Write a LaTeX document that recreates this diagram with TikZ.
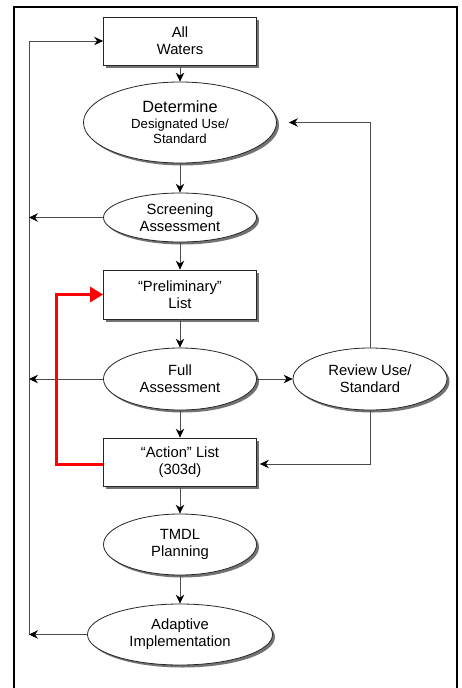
\documentclass[tikz,border=0pt]{standalone}
\usepackage{fontspec}
\setmainfont{Liberation Sans}
\usetikzlibrary{arrows.meta,shapes.geometric,shadows}

\tikzset{
  stepshade/.style={drop shadow={shadow xshift=2.5pt,shadow yshift=-2.5pt,fill=black!55,opacity=1}},
  listbox/.style={draw=black!85,line width=0.8pt,fill=white,rectangle,inner sep=0pt,
    minimum width=153pt,minimum height=48pt,align=center,stepshade,
    font=\fontsize{14.8}{17}\selectfont},
  task/.style={draw=black!85,line width=0.8pt,fill=white,ellipse,inner sep=0pt,
    minimum width=153pt,minimum height=61pt,align=center,stepshade,
    font=\fontsize{14.8}{17}\selectfont},
  flow/.style={draw=black!70,line width=0.9pt,-{Stealth[length=9pt,width=8.5pt,inset=3pt,color=black]}},
  redflow/.style={draw=red,line width=3pt,-{Triangle[length=13pt,width=15pt]}}
}

\begin{document}
\begin{tikzpicture}[x=1pt,y=-1pt]
    \clip (0,0) rectangle (461,688);
    % outer frame, open at the bottom of the page
    \draw[line width=2pt] (14,700) -- (14,7) -- (457,7) -- (457,700);

    % main column
    \node[listbox] (waters) at (180,41) {All\\Waters};
    \node[task,minimum width=193pt,minimum height=81pt] (determine) at (180,122.5)
      {{\fontsize{16.3}{19}\selectfont Determine}\\[-1pt]
       {\fontsize{13.2}{13.5}\selectfont Designated Use/}\\[-2pt]
       {\fontsize{13.2}{13.5}\selectfont Standard}};
    \node[task,minimum height=49pt] (screening) at (180,217.5) {Screening\\Assessment};
    \node[listbox,minimum height=49pt] (prelim) at (180,294.5) {``Preliminary''\\List};
    \node[task,minimum height=62pt] (full) at (180,379) {Full\\Assessment};
    \node[listbox] (action) at (180,462) {``Action'' List\\(303d)};
    \node[task] (tmdl) at (180,544.5) {TMDL\\Planning};
    \node[task,minimum width=185pt] (adaptive) at (180,634.5) {Adaptive\\Implementation};

    % side branch
    \node[task,minimum width=154pt,minimum height=62pt] (review) at (370,379) {Review Use/\\Standard};

    % left return rail
    \coordinate (railtop) at (29,41);
    \coordinate (railbot) at (29,635);
    \coordinate (redturn) at (56,294.5);

    \draw[flow] (waters) -- (determine);
    \draw[flow] (determine) -- (screening);
    \draw[flow] (screening) -- (prelim);
    \draw[flow] (prelim) -- (full);
    \draw[flow] (full) -- (action);
    \draw[flow] (action) -- (tmdl);
    \draw[flow] (tmdl) -- (adaptive);

    \draw[flow] (railbot) -- (railtop) -- (waters.west);
    \draw[flow] (screening.west) -- (screening.west -| railtop);
    \draw[flow] (full.west) -- (full.west -| railtop);
    \draw[flow] (adaptive.west) -- (adaptive.west -| railtop);

    \draw[flow] (full) -- (review);
    \draw[flow,shorten >=12pt] (review.north) |- (determine.east);
    \draw[flow,shorten >=3pt] (review.south) |- ([yshift=-2pt]action.east);

    % relisting loop
    \draw[redflow] ([yshift=-2pt]action.west) -| (redturn) -- (prelim.west);
\end{tikzpicture}
\end{document}
